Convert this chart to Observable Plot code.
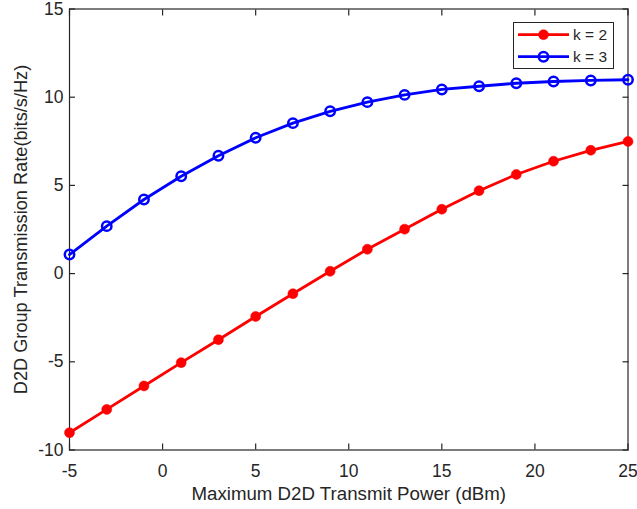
<!DOCTYPE html>
<html>
<head>
<meta charset="utf-8">
<script src="https://cdn.jsdelivr.net/npm/d3@7"></script>
<script src="https://cdn.jsdelivr.net/npm/@observablehq/plot@0.6"></script>
<style>
  html, body { margin: 0; padding: 0; background: #fff; }
  #wrap { position: relative; width: 637px; height: 509px; }
  #legend { position: absolute; left: 513px; top: 22px; }
</style>
</head>
<body>
<div id="wrap"></div>
<script>
// Data
const power = [-5, -3, -1, 1, 3, 5, 7, 9, 11, 13, 15, 17, 19, 21, 23, 25];
const rateK2 = [-9.02, -7.70, -6.37, -5.05, -3.75, -2.43, -1.14, 0.13, 1.38, 2.52, 3.65, 4.70, 5.62, 6.37, 6.99, 7.49];
const rateK3 = [1.08, 2.69, 4.20, 5.52, 6.68, 7.70, 8.53, 9.20, 9.72, 10.13, 10.44, 10.62, 10.79, 10.89, 10.95, 10.99];
const seriesNames = ["k = 2", "k = 3"];
const xTicks = [-5, 0, 5, 10, 15, 20, 25];
const yTicks = [-10, -5, 0, 5, 10, 15];
const xLabel = "Maximum D2D Transmit Power (dBm)";
const yLabel = "D2D Group Transmission Rate(bits/s/Hz)";

const k2 = power.map((p, i) => ({x: p, y: rateK2[i], s: seriesNames[0]}));
const k3 = power.map((p, i) => ({x: p, y: rateK3[i], s: seriesNames[1]}));

const axisColor = "#262626";
const font = "'Liberation Sans', Arial, Helvetica, sans-serif";
const fmt = d => String(d);

const chart = Plot.plot({
  width: 637,
  height: 509,
  marginLeft: 69,
  marginRight: 9.5,
  marginTop: 8.5,
  marginBottom: 59.5,
  style: {fontFamily: font, color: axisColor, background: "#fff", overflow: "visible"},
  x: {domain: [-5, 25]},
  y: {domain: [-10, 15]},
  marks: [
    Plot.frame({stroke: axisColor, strokeWidth: 1.2}),
    Plot.axisX({anchor: "bottom", ticks: xTicks, tickFormat: fmt, tickSize: -6, tickPadding: 20.5, fontSize: 17.5, label: null, stroke: axisColor, fill: axisColor, strokeWidth: 1.2}),
    Plot.axisX({anchor: "top", ticks: xTicks, tickSize: -6, tickFormat: () => "", label: null, stroke: axisColor, strokeWidth: 1.2}),
    Plot.axisY({anchor: "left", ticks: yTicks, tickFormat: fmt, tickSize: -6, tickPadding: 12, fontSize: 17.5, label: null, stroke: axisColor, fill: axisColor, strokeWidth: 1.2}),
    Plot.axisY({anchor: "right", ticks: yTicks, tickSize: -6, tickFormat: () => "", label: null, stroke: axisColor, strokeWidth: 1.2}),
    Plot.text([xLabel], {frameAnchor: "bottom", textAnchor: "middle", lineAnchor: "middle", dy: 44, fontSize: 18.7, fill: axisColor}),
    Plot.text([yLabel], {frameAnchor: "left", textAnchor: "middle", lineAnchor: "middle", rotate: -90, dx: -48, fontSize: 18.2, fill: axisColor}),
    Plot.line(k2, {x: "x", y: "y", stroke: "#ff0000", strokeWidth: 2.8}),
    Plot.dot(k2, {x: "x", y: "y", r: 5, fill: "#ff0000", stroke: "#ff0000", strokeWidth: 0.5}),
    Plot.line(k3, {x: "x", y: "y", stroke: "#0000ff", strokeWidth: 2.8}),
    Plot.dot(k3, {x: "x", y: "y", r: 4.7, fill: "none", stroke: "#0000ff", strokeWidth: 2.5})
  ]
});

const wrap = document.getElementById("wrap");
wrap.appendChild(chart);

// Legend (MATLAB style box inside the axes)
const legendItems = [
  {name: seriesNames[0], color: "#ff0000", filled: true},
  {name: seriesNames[1], color: "#0000ff", filled: false}
];
const lg = d3.create("svg").attr("id", "legend").attr("width", 101).attr("height", 47)
  .style("font-family", font);
lg.append("rect").attr("x", 0.5).attr("y", 0.5).attr("width", 100).attr("height", 46)
  .attr("fill", "#fff").attr("stroke", axisColor).attr("stroke-width", 1);
legendItems.forEach((d, i) => {
  const cy = 12.7 + i * 22;
  lg.append("line").attr("x1", 5).attr("x2", 56).attr("y1", cy).attr("y2", cy)
    .attr("stroke", d.color).attr("stroke-width", 2.8);
  lg.append("circle").attr("cx", 30.5).attr("cy", cy).attr("r", d.filled ? 5 : 4.7)
    .attr("fill", d.filled ? d.color : "none").attr("stroke", d.color).attr("stroke-width", d.filled ? 0.5 : 2.5);
  lg.append("text").attr("x", 60).attr("y", cy).attr("dy", "0.35em")
    .attr("font-size", 15.5).attr("fill", axisColor).text(d.name);
});
wrap.appendChild(lg.node());
</script>
</body>
</html>
